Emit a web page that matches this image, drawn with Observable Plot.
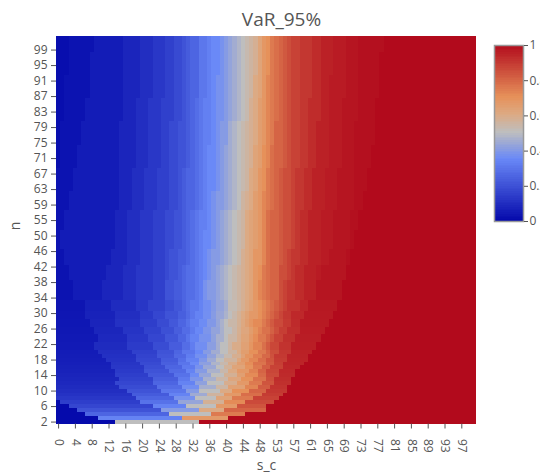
<!DOCTYPE html>
<html>
<head>
<meta charset="utf-8">
<script src="https://cdn.jsdelivr.net/npm/d3@7"></script>
<script src="https://cdn.jsdelivr.net/npm/@observablehq/plot@0.6"></script>
<style>
html,body{margin:0;padding:0;background:#fff;width:540px;height:475px;overflow:hidden}
#wrap{position:relative;width:540px;height:475px;font-family:"Open Sans",sans-serif}
#wrap svg{position:absolute;background:transparent}
</style>
</head>
<body>
<div id="wrap"></div>
<script>
const chartTitle = "VaR_95%";
const xTickLabels = [0,4,8,12,16,20,24,28,32,36,40,44,48,53,57,61,65,69,73,77,81,85,89,93,97];
const yTickLabels = [2,6,10,14,18,22,26,30,34,38,42,46,50,55,59,63,67,71,75,79,83,87,91,95,99];
const colorDomain = [0,0.35,0.5,0.6,0.7,1];
const colorRange = ["rgb(5,10,172)","rgb(106,137,247)","rgb(190,190,190)","rgb(220,170,132)","rgb(230,145,90)","rgb(178,10,28)"];
const colorbarTicks = [0,0.2,0.4,0.6,0.8,1];

// Lower rows: the column where each successive even step of the value begins.
const stepBandFirstRow = [0,1,2,3,4,5,6,7,8,9,10,11,12,13,14,15,16,17,18,19,21,23,25,27,29];
const stepBandEdges = [
 [14,34],
 [10,30,41],
 [7,27,37,45],
 [5,25,34,40,50],
 [3,23,31,38,43,50],
 [1,20,29,35,40,45,52],
 [0,19,28,33,38,42,47,53],
 [0,18,27,32,36,40,44,49,54],
 [0,17,25,31,34,39,42,46,50,55],
 [0,15,24,30,34,38,41,45,48,51,55],
 [0,14,23,29,33,36,40,43,46,49,52,56],
 [0,15,23,29,32,35,38,41,44,47,50,52,56],
 [0,14,22,28,32,34,37,40,43,45,48,50,53,57],
 [0,14,21,27,31,33,36,39,41,43,46,48,50,53,57],
 [0,13,21,26,30,33,35,38,40,42,45,47,49,51,54,58],
 [0,13,20,25,29,32,34,37,39,41,43,45,47,50,52,54,59],
 [0,12,19,25,29,31,34,36,38,40,43,44,46,48,50,52,55,60],
 [0,11,19,24,28,31,33,36,38,40,42,44,45,47,49,51,52,55,60],
 [0,10,18,24,28,30,33,35,37,39,41,43,44,46,48,50,51,53,56,61],
 [0,9,17,23,27,30,32,33,36,38,39,41,42,44,46,47,49,50,51,53,56,62],
 [0,10,17,22,26,29,31,32,34,37,38,40,41,43,44,46,47,48,50,51,52,54,57,63],
 [0,9,16,21,25,28,30,32,33,35,37,39,40,42,43,44,46,47,48,49,51,52,53,55,58,64],
 [0,8,14,20,24,27,29,31,32,34,36,38,39,40,41,43,44,45,46,47,49,50,51,52,54,56,58,65],
 [0,7,14,20,23,26,29,31,32,33,35,37,38,40,41,42,43,44,45,46,48,49,50,51,52,53,54,56,59,66],
 [0,7,13,19,22,26,28,30,31,32,34,35,37,38,40,41,41,43,44,45,46,47,48,49,50,51,52,53,54,55,58,60,67]
];

// Upper rows: a band of rows shares one profile, with the value levels below.
const upperLevels = [0.025,0.05,0.075,0.1,0.125,0.15,0.175,0.2,0.225,0.25,0.275,
  0.3,0.325,0.35,0.375,0.4,0.425,0.45,0.475,0.5,0.525,0.55,0.575,0.6,0.625,0.65,0.675,0.7,0.725,0.75,0.775,0.8,
  0.825,0.85,0.875,0.9,0.925,0.95,0.9625,0.975,0.9875,1];
const upperBaseValue = 0.01;
const upperBandFirstRow = [32,37,41,45,50,55,60,66,72,78,84,90,96];
const upperBandEdges = [
 [0,4,11,16,19,23,26,26,28,30,31, 33,34,35,35,36,38,39,40,41,42,43,44,45,46,47,47,48,48,49,50,51, 53,53,54,55,57,59,62,62,68,68],
 [0,3,12,16,19,23,26,27,29,30,31, 33,34,35,36,37,38,39,40,41,42,43,44,45,46,47,47,48,49,49,50,51, 53,53,55,56,57,59,62,63,69,69],
 [0,2,13,17,20,23,26,27,29,31,32, 33,34,35,36,37,39,40,41,42,43,44,44,45,46,47,47,49,49,50,50,51, 53,54,55,56,58,60,63,65,69,70],
 [0,1,14,17,20,23,26,28,30,31,32, 33,34,35,37,38,39,40,41,42,43,44,45,45,46,47,48,49,49,50,50,51, 53,54,56,57,58,60,63,66,70,71],
 [0,2,14,17,20,23,26,28,30,31,32, 33,34,36,37,38,39,40,41,42,43,44,45,45,46,47,48,49,49,50,50,51, 53,54,56,57,58,60,63,66,70,72],
 [0,3,15,18,21,24,27,29,30,31,33, 34,35,36,37,38,40,41,42,43,44,44,45,46,47,47,48,49,49,50,51,52, 53,54,56,57,59,61,64,67,71,73],
 [0,4,15,18,21,24,27,29,30,31,33, 34,35,36,38,39,40,41,42,43,44,45,46,46,47,48,48,49,50,50,51,52, 53,54,56,57,59,61,64,67,71,74],
 [1,5,15,19,22,25,27,29,31,32,33, 34,35,36,38,39,40,41,42,43,44,45,46,47,47,48,49,49,50,51,51,52, 54,55,56,58,60,62,65,68,71,75],
 [1,6,15,19,22,25,27,29,31,32,33, 34,35,37,38,39,41,41,42,43,44,45,46,47,48,48,49,50,50,51,52,52, 54,55,56,58,60,62,65,68,71,76],
 [2,7,16,19,22,25,28,30,31,32,33, 34,35,37,38,40,41,42,43,44,45,46,46,47,48,48,49,50,50,51,52,53, 54,55,56,58,60,63,65,68,72,76],
 [2,8,16,20,23,26,28,30,31,32,34, 34,36,37,38,40,41,42,43,44,45,46,47,47,48,49,49,50,50,51,52,53, 54,55,56,58,61,63,65,69,72,77],
 [3,8,16,20,23,26,28,30,31,32,34, 34,36,37,39,40,41,42,43,44,45,46,47,48,48,49,49,50,51,51,52,53, 54,55,56,58,61,63,66,69,72,77],
 [3,9,16,20,23,26,28,30,31,32,34, 34,36,37,39,40,41,42,43,44,45,46,47,48,48,49,49,50,51,51,52,53, 54,55,56,58,61,63,66,69,72,78]
];

const columns = d3.range(100), rows = d3.range(100);
const cells = [];
function addRow(row, edges, levels, base) {
  for (const col of columns) {
    let v = base;
    edges.forEach((e, k) => { if (col >= e) v = levels[k]; });
    cells.push({col, row, v});
  }
}
function addBands(firstRows, edgeLists, levelsOf, base, lastRow) {
  firstRows.forEach((first, b) => {
    const next = b + 1 < firstRows.length ? firstRows[b + 1] : lastRow;
    for (let row = first; row < next; ++row) addRow(row, edgeLists[b], levelsOf(edgeLists[b]), base);
  });
}
addBands(stepBandFirstRow, stepBandEdges, edges => edges.map((_, k) => (k + 1) / edges.length), 0, upperBandFirstRow[0]);
addBands(upperBandFirstRow, upperBandEdges, () => upperLevels, upperBaseValue, 100);

const ink = "#555";
const color = {type:"linear", domain:colorDomain, range:colorRange, interpolate:"rgb"};

const main = Plot.plot({
  width:540, height:475, marginLeft:56, marginRight:64, marginTop:36, marginBottom:51.5,
  style:{fontFamily:'"Open Sans",sans-serif', fontSize:"12px", overflow:"visible", color:ink},
  x:{type:"band", domain:columns, padding:0, round:false},
  y:{type:"band", domain:rows.slice().reverse(), padding:0, round:false},
  color,
  marks:[
    Plot.cell(cells,{x:"col", y:"row", fill:"v", inset:0, shapeRendering:"crispEdges"}),
    Plot.axisX({ticks:xTickLabels.map((_,i)=>i*4), tickFormat:d=>String(xTickLabels[d/4]), tickRotate:90, tickSize:5, tickPadding:10,
      stroke:ink, fill:ink, fontSize:12, label:null}),
    Plot.axisY({ticks:yTickLabels.map((_,i)=>i*4), tickFormat:d=>String(yTickLabels[d/4]), tickSize:5, tickPadding:4,
      stroke:ink, fill:ink, fontSize:12, label:null}),
    Plot.text(["s_c"],{frameAnchor:"bottom", dy:46, fontSize:14, fill:ink, text:d=>d}),
    Plot.text(["n"],{frameAnchor:"left", dx:-41, rotate:-90, fontSize:14, fill:ink, text:d=>d}),
    Plot.text([chartTitle],{frameAnchor:"top", dx:15, dy:-17, fontSize:19, fill:ink, text:d=>d, lineAnchor:"middle"})
  ]
});
main.style.left="0"; main.style.top="0";
document.getElementById("wrap").appendChild(main);

const ramp = d3.range(0,1,0.01);
const bar = Plot.plot({
  width:66, height:200, marginLeft:20, marginRight:17, marginTop:9, marginBottom:15,
  style:{fontFamily:'"Open Sans",sans-serif', fontSize:"12px", overflow:"visible", color:ink},
  x:{domain:[0,1], axis:null},
  y:{domain:[0,1], axis:null},
  color,
  marks:[
    Plot.rect(ramp,{x1:0, x2:1, y1:d=>d, y2:d=>Math.min(1,d+0.02), fill:d=>d, shapeRendering:"crispEdges"}),
    Plot.frame({stroke:"#999", strokeWidth:1.5}),
    Plot.axisY({anchor:"right", ticks:colorbarTicks, tickFormat:d=>String(d), tickSize:4, tickPadding:2, label:null, stroke:ink, fill:ink, fontSize:12})
  ]
});
bar.style.left="474px"; bar.style.top="36px";
document.getElementById("wrap").appendChild(bar);
</script>
</body>
</html>
